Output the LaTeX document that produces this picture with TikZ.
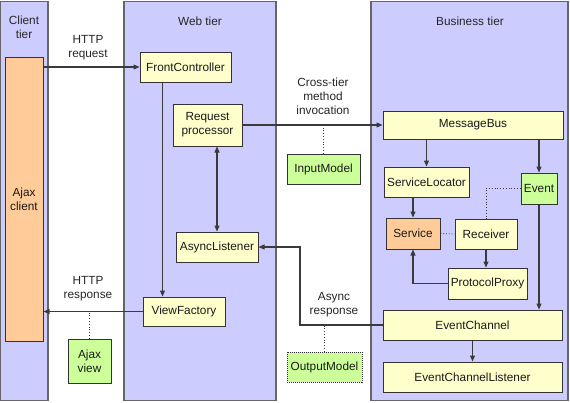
\documentclass[tikz,border=0pt]{standalone}
\usepackage{fontspec}
\setmainfont{Liberation Sans}
\usepackage{tikz}
\usetikzlibrary{positioning,calc,arrows.meta}
\definecolor{tierfill}{HTML}{CCCCFF}
\definecolor{tierline}{HTML}{666666}
\definecolor{boxyellow}{HTML}{FFFFCC}
\definecolor{boxgreen}{HTML}{CCFF99}
\definecolor{boxorange}{HTML}{FFCC99}
\definecolor{boxline}{HTML}{333333}
\definecolor{wire}{HTML}{3A3A3A}

\begin{document}
\begin{tikzpicture}[x=1pt, y=-1pt,
    font=\fontsize{11.8}{14}\selectfont,
    tier/.style={draw=tierline, fill=tierfill, line width=1.2pt},
    box/.style={draw=boxline, fill=boxyellow, line width=1pt, inner sep=0pt, align=center, text=black!90},
    greenbox/.style={box, fill=boxgreen},
    orangebox/.style={box, fill=boxorange},
    lbl/.style={align=center, inner sep=0pt, text=black!85},
    conn/.style={draw=wire, line width=1.1pt, -{Triangle[length=6pt,width=5pt]}},
    biconn/.style={draw=wire, line width=1.1pt, {Triangle[length=6pt,width=5pt]}-{Triangle[length=6pt,width=5pt]}},
    dotline/.style={draw=wire, line width=0.8pt, dotted}]
        \useasboundingbox (0,0) rectangle (570,402);

        % Tiers
        \draw[tier] (0.6,1.5) rectangle (48,400.5);
        \draw[tier] (124,1.5) rectangle (276,400.5);
        \draw[tier] (371,1.5) rectangle (568,400.5);
        \node[lbl] (clienttier) at (24,27) {Client\\tier};
        \node[lbl] (webtier) at (200,21) {Web tier};
        \node[lbl] (businesstier) at (470,21) {Business tier};

        % Client tier
        \node[orangebox, minimum width=38pt, minimum height=284pt] (ajaxclient) at (24,199) {Ajax\\client};

        % Web tier
        \node[box, minimum width=91pt, minimum height=30pt] (front) at (185.5,67) {FrontController};
        \node[box, minimum width=69pt, minimum height=42pt] (reqproc) at (207.5,125) {Request\\processor};
        \node[box, minimum width=82pt, minimum height=30pt] (asynclist) at (217,247) {AsyncListener};
        \node[box, minimum width=82pt, minimum height=29pt] (viewfactory) at (184,311.5) {ViewFactory};
        \node[greenbox, minimum width=43pt, minimum height=44pt] (ajaxview) at (89.5,361) {Ajax\\view};

        % Between web and business tier
        \node[greenbox, minimum width=73pt, minimum height=30pt] (inputmodel) at (323.5,169) {InputModel};
        \node[greenbox, densely dotted, minimum width=75pt, minimum height=30pt] (outputmodel) at (324.5,367) {OutputModel};

        % Business tier
        \node[box, minimum width=180pt, minimum height=28pt] (msgbus) at (473,125) {MessageBus};
        \node[box, minimum width=85pt, minimum height=30pt] (servicelocator) at (426.5,182) {ServiceLocator};
        \node[greenbox, minimum width=36pt, minimum height=31pt] (event) at (539,188.5) {Event};
        \node[orangebox, minimum width=54pt, minimum height=31pt] (service) at (413,233.5) {Service};
        \node[box, minimum width=62pt, minimum height=30pt] (receiver) at (486,234) {Receiver};
        \node[box, minimum width=79pt, minimum height=31pt] (procproxy) at (487.5,283.5) {ProtocolProxy};
        \node[box, minimum width=179pt, minimum height=30pt] (evchannel) at (472.5,325) {EventChannel};
        \node[box, minimum width=179pt, minimum height=30pt] (evlistener) at (472.5,377) {EventChannelListener};

        % Labels on connectors
        \node[lbl] (httpreq) at (88,48) {HTTP\\request};
        \node[lbl] (httpresp) at (88,289) {HTTP\\response};
        \node[lbl] (crosstier) at (323,96) {Cross-tier\\method\\invocation};
        \node[lbl] (asyncresp) at (334,305) {Async\\response};

        % Connectors
        \draw[conn] (ajaxclient.east |- front.west) -- (front.west);
        \draw[conn] (viewfactory.west) -- (viewfactory.west -| ajaxclient.east);
        \draw[dotline] (ajaxview.north) -- (ajaxview.north |- viewfactory.west);
        \draw[conn] ($(front.south west)+(23,0)$) -- ($(viewfactory.north west)+(20,0)$);
        \draw[biconn] (asynclist.north |- reqproc.south) -- (asynclist.north);
        \draw[conn] (reqproc.east) -- (msgbus.west);
        \draw[dotline] (inputmodel.north) -- (inputmodel.north |- reqproc.east);
        \coordinate (asyncbend) at (300,325);
        \draw[conn] (evchannel.west) -- (asyncbend) |- (asynclist.east);
        \draw[dotline] (outputmodel.north) -- (outputmodel.north |- evchannel.west);
        \draw[conn] (servicelocator.north |- msgbus.south) -- (servicelocator.north);
        \draw[conn] (event.north |- msgbus.south) -- (event.north);
        \draw[conn] (service.north |- servicelocator.south) -- (service.north);
        \draw[dotline] (event.west) -| (receiver.north);
        \draw[dotline] (service.east) -- (receiver.west);
        \draw[conn] (receiver.south) -- (receiver.south |- procproxy.north);
        \draw[conn] (procproxy.west) -| (service.south);
        \draw[conn] (event.south) -- (event.south |- evchannel.north);
        \draw[conn] (evchannel.south) -- (evlistener.north);
    \end{tikzpicture}
\end{document}
